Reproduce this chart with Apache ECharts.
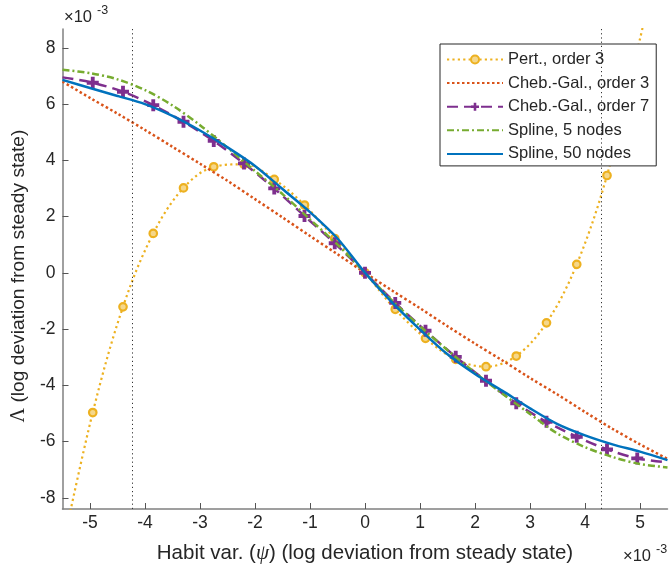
<!DOCTYPE html>
<html>
<head>
<meta charset="utf-8">
<script src="https://cdn.jsdelivr.net/npm/echarts@6/dist/echarts.min.js"></script>
<style>
  html, body { margin: 0; padding: 0; background: #fff; }
  #chart { width: 669px; height: 571px; }
</style>
</head>
<body>
<div id="chart"></div>
<script>
// Habit variable grid (x 1e-3), spacing 0.5
const psiGrid = [-5.5, -5, -4.5, -4, -3.5, -3, -2.5, -2, -1.5, -1, -0.5, 0,
                 0.5, 1, 1.5, 2, 2.5, 3, 3.5, 4, 4.5, 5, 5.5];
// Marker grid (x 1e-3), spacing 0.55
const psiMarkers = [-5.5, -4.95, -4.4, -3.85, -3.3, -2.75, -2.2, -1.65, -1.1, -0.55, 0,
                    0.55, 1.1, 1.65, 2.2, 2.75, 3.3, 3.85, 4.4, 4.95, 5.5];

// Policy Lambda (x 1e-3) for each approximation
const pertOrder3 = [-9.8, -4.97, -1.21, 1.40, 3.02, 3.77, 3.86, 3.32, 2.41, 1.22, 0,
                    -1.30, -2.33, -3.08, -3.34, -2.96, -1.78, 0.30, 3.46, 7.9, 12.6];
const chebOrder3 = [6.8, 6.22, 5.66, 5.08, 4.48, 3.88, 3.27, 2.62, 1.97, 1.31, 0.66, 0,
                    -0.64, -1.26, -1.9, -2.52, -3.12, -3.74, -4.33, -4.95, -5.55, -6.1, -6.62];
const chebOrder7 = [6.95, 6.76, 6.44, 5.96, 5.37, 4.69, 3.89, 3.0, 2.02, 1.05, 0,
                    -1.07, -2.06, -2.99, -3.84, -4.64, -5.3, -5.83, -6.28, -6.6, -6.74];
const spline5 = [7.22, 7.1, 6.88, 6.5, 5.95, 5.25, 4.45, 3.62, 2.8, 1.9, 1.0, 0,
                 -1.0, -1.9, -2.75, -3.55, -4.3, -5.02, -5.72, -6.2, -6.55, -6.8, -6.92];
const spline50 = [6.86, 6.57, 6.29, 6.0, 5.58, 5.06, 4.46, 3.8, 2.98, 2.16, 1.22, 0,
                  -1.07, -2.02, -2.9, -3.6, -4.2, -4.82, -5.38, -5.78, -6.1, -6.36, -6.66];

// Ergodic-set bounds (x 1e-3)
const boundLines = [-4.23, 4.29];

// Axis ticks
const xTicks = [-5, -4, -3, -2, -1, 0, 1, 2, 3, 4, 5];
const yTicks = [-8, -6, -4, -2, 0, 2, 4, 6, 8];

const seriesNames = ['Pert., order 3', 'Cheb.-Gal., order 3', 'Cheb.-Gal., order 7',
                     'Spline, 5 nodes', 'Spline, 50 nodes'];
const hasMarkers = [true, false, true, false, false];

const pair = (xs, ys) => xs.map((x, i) => [x, ys[i]]);
// markers only on interior points
const markedPairs = (xs, ys) => xs.map((x, i) => {
  const item = { value: [x, ys[i]] };
  if (i === 0 || i === xs.length - 1) item.symbol = 'none';
  return item;
});

const FONT = 'Liberation Sans, Arial, Helvetica, sans-serif';
const SERIF = 'Liberation Serif, DejaVu Serif, serif';
const TXT = '#262626';
const plusPath = 'path://M3.4,0H6.6V3.4H10V6.6H6.6V10H3.4V6.6H0V3.4H3.4Z';

const chart = echarts.init(document.getElementById('chart'), null, { renderer: 'canvas' });

chart.setOption({
  backgroundColor: '#ffffff',
  animation: false,
  grid: { left: 62.5, top: 29, right: 1.5, bottom: 62, containLabel: false },
  xAxis: {
    type: 'value',
    min: -5.5, max: 5.5,
    name: 'Habit var. ({p|ψ}) (log deviation from steady state)',
    nameLocation: 'middle',
    nameGap: 34,
    nameTextStyle: {
      fontFamily: FONT, fontSize: 20.5, color: TXT,
      rich: { p: { fontFamily: SERIF, fontStyle: 'italic', fontSize: 21, color: TXT } }
    },
    axisLine: { show: true, onZero: false, lineStyle: { color: '#808080', width: 1.5 } },
    axisTick: { show: true, inside: true, length: 6, customValues: xTicks, lineStyle: { color: '#555', width: 1 } },
    axisLabel: { customValues: xTicks, fontFamily: FONT, fontSize: 17.5, color: TXT, margin: 5 },
    splitLine: { show: false }
  },
  yAxis: {
    type: 'value',
    min: -8.4, max: 8.67,
    name: '{g|Λ} (log deviation from steady state)',
    nameLocation: 'middle',
    nameGap: 23,
    nameRotate: 90,
    nameTextStyle: {
      fontFamily: FONT, fontSize: 19.2, color: TXT,
      padding: [0, 14, 0, 0],
      rich: { g: { fontFamily: SERIF, fontSize: 20, color: TXT } }
    },
    axisLine: { show: true, onZero: false, lineStyle: { color: '#808080', width: 1.5 } },
    axisTick: { show: true, inside: true, length: 6, customValues: yTicks, lineStyle: { color: '#555', width: 1 } },
    axisLabel: { customValues: yTicks, fontFamily: FONT, fontSize: 17.5, color: TXT, margin: 7 },
    splitLine: { show: false }
  },
  legend: {
    orient: 'vertical',
    left: 440, top: 44,
    padding: [7, 7, 3.5, 6],
    itemWidth: 56, itemHeight: 10, itemGap: 6.6,
    backgroundColor: '#ffffff',
    borderColor: '#262626', borderWidth: 1,
    textStyle: { fontFamily: FONT, fontSize: 16.5, color: TXT },
    data: seriesNames.map((n, i) => hasMarkers[i] ? { name: n } : { name: n, itemStyle: { opacity: 0 } })
  },
  graphic: [
    { type: 'text', left: 64, top: 9, style: { text: '×10', font: '16.5px ' + FONT, fill: TXT } },
    { type: 'text', left: 97, top: 4, style: { text: '-3', font: '12.5px ' + FONT, fill: TXT } },
    { type: 'text', left: 623, top: 548, style: { text: '×10', font: '16.5px ' + FONT, fill: TXT } },
    { type: 'text', left: 656, top: 543, style: { text: '-3', font: '12.5px ' + FONT, fill: TXT } }
  ],
  series: [
    {
      name: seriesNames[0], type: 'line', smooth: 0.35, clip: true,
      data: markedPairs(psiMarkers, pertOrder3),
      symbol: 'circle', symbolSize: 7.5,
      itemStyle: { color: '#F5D78A', borderColor: '#EDB120', borderWidth: 2.2 },
      lineStyle: { color: '#EDB120', width: 2.2, type: [2.2, 3.2] },
      z: 2
    },
    {
      name: seriesNames[1], type: 'line', smooth: 0.3, clip: true,
      data: pair(psiGrid, chebOrder3), showSymbol: false, symbol: 'none',
      itemStyle: { color: '#D95319' },
      lineStyle: { color: '#D95319', width: 2.5, type: [2.5, 2.5] },
      z: 3
    },
    {
      name: seriesNames[2], type: 'line', smooth: 0.3, clip: true,
      data: markedPairs(psiMarkers, chebOrder7),
      symbol: plusPath, symbolSize: 12,
      itemStyle: { color: '#7E2F8E' },
      lineStyle: { color: '#7E2F8E', width: 2.5, type: [11, 6] },
      z: 4
    },
    {
      name: seriesNames[3], type: 'line', smooth: 0.3, clip: true,
      data: pair(psiGrid, spline5), showSymbol: false, symbol: 'none',
      itemStyle: { color: '#77AC30' },
      lineStyle: { color: '#77AC30', width: 2.5, type: [7, 3, 2, 3] },
      z: 5
    },
    {
      name: seriesNames[4], type: 'line', smooth: 0.3, clip: true,
      data: pair(psiGrid, spline50), showSymbol: false, symbol: 'none',
      itemStyle: { color: '#0072BD' },
      lineStyle: { color: '#0072BD', width: 2.5 },
      z: 6
    },
    {
      name: 'bounds', type: 'line', data: [], silent: true,
      markLine: {
        silent: true, symbol: ['none', 'none'], label: { show: false },
        lineStyle: { color: '#333', width: 1, type: [1.2, 3] },
        data: boundLines.map(v => ({ xAxis: v }))
      },
      z: 1
    }
  ]
});
</script>
</body>
</html>
